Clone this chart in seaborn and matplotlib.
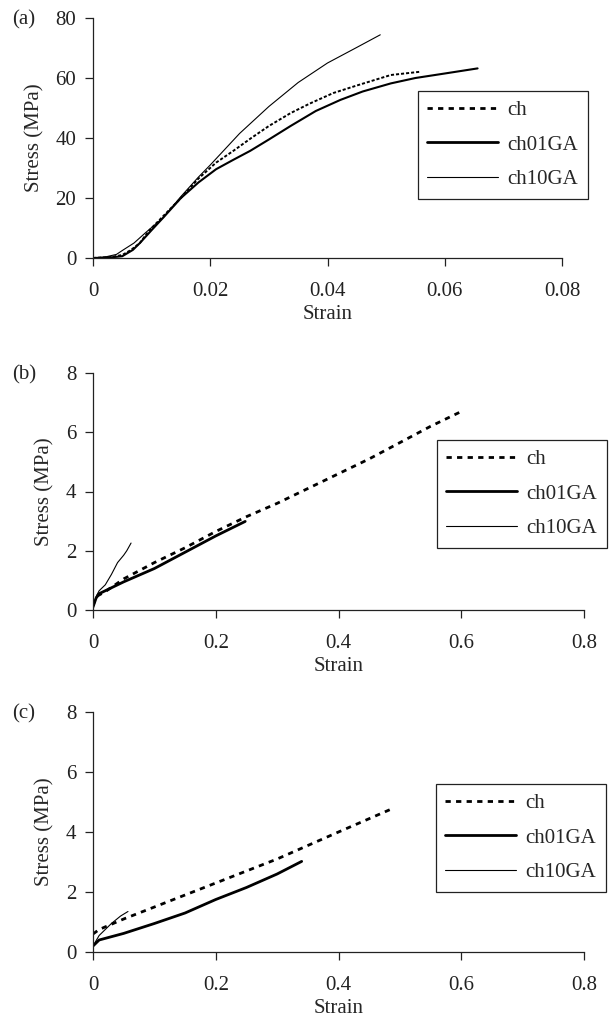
import matplotlib
matplotlib.use("Agg")
import matplotlib.pyplot as plt
from matplotlib.lines import Line2D
import pandas as pd
import seaborn as sns

# ---- panel (a): strain / stress (MPa) ----
a_ch_strain = [0, 0.003, 0.005, 0.0065, 0.008, 0.0095, 0.012, 0.015, 0.018, 0.021,
               0.024, 0.027, 0.030, 0.0337, 0.037, 0.041, 0.045, 0.0508, 0.0559]
a_ch_stress = [0, 0.3, 1.0, 2.7, 5.0, 9.0, 14.0, 20.0, 26.5, 31.8,
               35.8, 40.0, 44.0, 48.3, 51.5, 55.0, 57.5, 61.0, 62.1]

a_ch01_strain = [0, 0.003, 0.005, 0.0068, 0.008, 0.010, 0.012, 0.015, 0.018, 0.021,
                 0.024, 0.0268, 0.030, 0.0337, 0.038, 0.0422, 0.046, 0.0508, 0.055, 0.060, 0.0656]
a_ch01_stress = [0, 0.2, 0.6, 2.7, 5.0, 9.3, 13.5, 20.0, 25.2, 29.6,
                 32.8, 35.7, 39.5, 44.0, 49.0, 52.7, 55.5, 58.2, 60.0, 61.5, 63.2]

a_ch10_strain = [0, 0.002, 0.004, 0.005, 0.007, 0.009, 0.012, 0.015, 0.018, 0.020,
                 0.025, 0.030, 0.035, 0.040, 0.045, 0.049]
a_ch10_stress = [0, 0.3, 1.2, 2.5, 5.0, 8.5, 13.5, 20.5, 27.0, 31.0,
                 41.5, 50.5, 58.5, 65.0, 70.2, 74.4]

# ---- panel (b) ----
b_ch_strain = [0, 0.005, 0.02, 0.05, 0.10, 0.15, 0.20, 0.25, 0.30, 0.35, 0.40, 0.45, 0.50, 0.55, 0.602]
b_ch_stress = [0.15, 0.45, 0.62, 1.05, 1.6, 2.1, 2.65, 3.15, 3.6, 4.1, 4.6, 5.1, 5.65, 6.2, 6.72]

b_ch01_strain = [0, 0.005, 0.01, 0.05, 0.10, 0.15, 0.20, 0.248]
b_ch01_stress = [0.1, 0.4, 0.55, 0.95, 1.4, 1.95, 2.5, 2.99]

b_ch10_strain = [0, 0.005, 0.01, 0.02, 0.03, 0.04, 0.05, 0.055, 0.062]
b_ch10_stress = [0.1, 0.45, 0.65, 0.85, 1.2, 1.6, 1.85, 2.0, 2.26]

# ---- panel (c) ----
c_ch_strain = [0, 0.01, 0.05, 0.10, 0.20, 0.30, 0.40, 0.49]
c_ch_stress = [0.6, 0.75, 1.1, 1.5, 2.3, 3.1, 4.0, 4.8]

c_ch01_strain = [0, 0.01, 0.05, 0.10, 0.15, 0.20, 0.25, 0.30, 0.34]
c_ch01_stress = [0.2, 0.4, 0.62, 0.95, 1.3, 1.75, 2.15, 2.6, 3.02]

c_ch10_strain = [0, 0.01, 0.03, 0.045, 0.057]
c_ch10_stress = [0.2, 0.55, 0.95, 1.2, 1.35]

samples = ["ch", "ch01GA", "ch10GA"]

a_xticks = [0, 0.02, 0.04, 0.06, 0.08]
a_yticks = [0, 20, 40, 60, 80]
bc_xticks = [0, 0.2, 0.4, 0.6, 0.8]
bc_yticks = [0, 2, 4, 6, 8]

sns.set_style("ticks")
plt.rcParams["font.family"] = ["Liberation Serif", "DejaVu Serif"]
plt.rcParams["axes.edgecolor"] = "#222222"
plt.rcParams["xtick.color"] = "#222222"
plt.rcParams["ytick.color"] = "#222222"

FS = 15
# legend / panel (b), (c) styles
styles = {
    "ch": dict(linestyle=(0, (1.9, 1.9)), linewidth=2.0),
    "ch01GA": dict(linestyle="-", linewidth=2.0),
    "ch10GA": dict(linestyle="-", linewidth=0.8),
}
# the dense records of panel (a) are drawn finer
styles_fine = {
    "ch": dict(linestyle=(0, (1.6, 1.0)), linewidth=1.4),
    "ch01GA": dict(linestyle="-", linewidth=1.5),
    "ch10GA": dict(linestyle="-", linewidth=0.8),
}


def to_frame(series):
    rows = []
    for name, xs, ys in series:
        for x, y in zip(xs, ys):
            rows.append({"Strain": x, "Stress": y, "sample": name})
    return pd.DataFrame(rows)


def fmt(v, _pos=None):
    return f"{v:g}"


W, H = 612, 1018
fig = plt.figure(figsize=(W / 100, H / 100), dpi=100)


def px_axes(left, top, right, bottom):
    return fig.add_axes([left / W, 1 - bottom / H, (right - left) / W, (bottom - top) / H])


panels = [
    ("(a)", 18, px_axes(93, 18, 562, 258),
     [("ch", a_ch_strain, a_ch_stress), ("ch01GA", a_ch01_strain, a_ch01_stress),
      ("ch10GA", a_ch10_strain, a_ch10_stress)],
     a_xticks, a_yticks, (418, 91), styles_fine),
    ("(b)", 373, px_axes(93, 373, 584, 610),
     [("ch", b_ch_strain, b_ch_stress), ("ch01GA", b_ch01_strain, b_ch01_stress),
      ("ch10GA", b_ch10_strain, b_ch10_stress)],
     bc_xticks, bc_yticks, (437, 440), styles),
    ("(c)", 712, px_axes(93, 712, 584, 952),
     [("ch", c_ch_strain, c_ch_stress), ("ch01GA", c_ch01_strain, c_ch01_stress),
      ("ch10GA", c_ch10_strain, c_ch10_stress)],
     bc_xticks, bc_yticks, (436, 784), styles),
]

for tag, top_px, ax, series, xt, yt, corner, st in panels:
    df = to_frame(series)
    for name in samples:
        sub = df[df["sample"] == name]
        sns.lineplot(data=sub, x="Strain", y="Stress", ax=ax, color="black",
                     sort=False, estimator=None, legend=False, **st[name])
    ax.set_xlim(xt[0], xt[-1])
    ax.set_ylim(yt[0], yt[-1])
    ax.set_xticks(xt)
    ax.set_yticks(yt)
    ax.xaxis.set_major_formatter(plt.FuncFormatter(fmt))
    ax.yaxis.set_major_formatter(plt.FuncFormatter(fmt))
    ax.tick_params(axis="both", direction="out", length=6, width=0.9, labelsize=FS)
    ax.tick_params(axis="x", pad=11)
    ax.tick_params(axis="y", pad=6)
    for s in ("top", "right"):
        ax.spines[s].set_visible(False)
    for s in ("left", "bottom"):
        ax.spines[s].set_linewidth(0.9)
    ax.set_xlabel("Strain", fontsize=FS, labelpad=3)
    ax.set_ylabel("Stress (MPa)", fontsize=FS, labelpad=8)
    ax.patch.set_alpha(0)

    handles = [Line2D([], [], color="black", **styles[n]) for n in samples]
    bl, bt = corner
    leg = ax.legend(handles, samples, loc="upper left", bbox_to_anchor=(bl / W, 1 - bt / H),
                    bbox_transform=fig.transFigure, borderaxespad=0,
                    fontsize=FS, frameon=True, fancybox=False, framealpha=1,
                    edgecolor="#222222", handlelength=3.4, handletextpad=0.45,
                    labelspacing=0.72, borderpad=0.45)
    leg.get_frame().set_linewidth(0.9)

    fig.text(12 / W, 1 - (top_px + 2) / H, tag, fontsize=FS, ha="left", va="center")

fig.savefig("out.png", dpi=100, facecolor="white")
